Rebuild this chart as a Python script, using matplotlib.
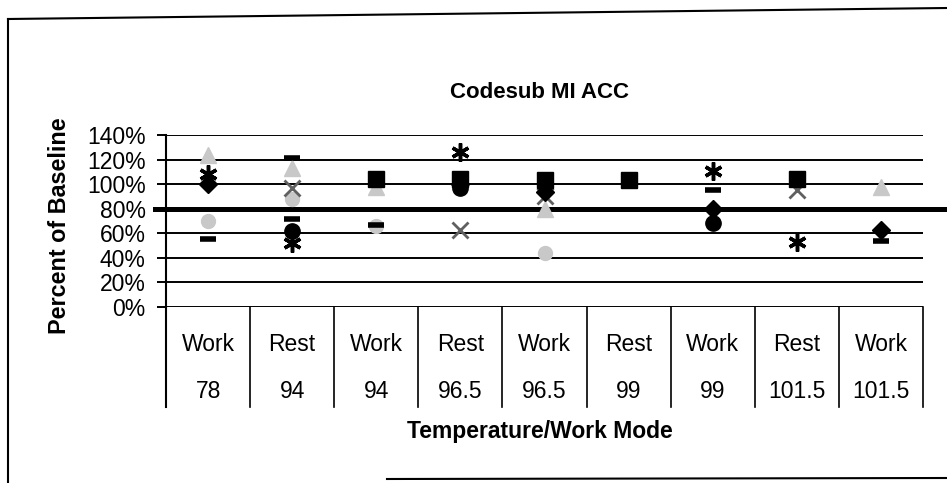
import matplotlib
matplotlib.use("Agg")
import matplotlib.pyplot as plt
import numpy as np
from matplotlib.lines import Line2D

plt.rcParams['font.family'] = ['Liberation Sans', 'DejaVu Sans']

nan = np.nan

# categories (two rows of the category table)
modes = ["Work", "Rest", "Work", "Rest", "Work", "Rest", "Work", "Rest", "Work"]
temps = ["78", "94", "94", "96.5", "96.5", "99", "99", "101.5", "101.5"]

# percent of baseline per series
diamond = [100, nan, nan, 100, 94, nan, 80, nan, 63]
square = [nan, nan, 104, 104, 103, 103, nan, 104, nan]
triangle = [124, 113, 98, nan, 80, nan, nan, nan, 98]
xmark = [nan, 97, nan, 63, 90, nan, nan, 95, nan]
star = [108, 52, nan, 126, nan, nan, 111, 53, nan]
circle = [nan, 62, nan, 97, nan, nan, 68, nan, nan]
light = [70, 88, 66, nan, 44, nan, nan, nan, nan]
dash = [55, 72, 67, nan, nan, nan, 95, nan, 54]
longbar = [nan, 121, nan, nan, nan, nan, nan, nan, nan]
threshold = 80
yticks = [0, 20, 40, 60, 80, 100, 120, 140]

x = np.arange(len(modes))

fig = plt.figure(figsize=(9.47, 4.83), dpi=100)
ax = fig.add_axes([0.1753, 0.3644, 0.7994, 0.3561])

# grid lines
for t in yticks:
    if t == threshold:
        continue
    ax.axhline(t, color='black', lw=1.4, zorder=1)
ax.axhline(threshold, xmin=-0.015, xmax=1.04, color='black', lw=3.6,
           zorder=1, clip_on=False)

ax.plot(x, triangle, ls='none', marker='^', ms=11, color='#c8c8c8', zorder=3)
ax.plot(x, light, ls='none', marker='o', ms=10, color='#c8c8c8', zorder=3)
ax.plot(x, xmark, ls='none', marker='x', ms=11, mew=2, color='#606060', zorder=4)
ax.plot(x, square, ls='none', marker='s', ms=11, color='black', zorder=4)
ax.plot(x, circle, ls='none', marker='o', ms=11, color='black', zorder=4)
ax.plot(x, diamond, ls='none', marker='D', ms=9, color='black', zorder=5)
ax.plot(x, star, ls='none', marker=(6, 2, 0), ms=13, mew=2.5, color='black', zorder=5)
ax.plot(x, dash, ls='none', marker='_', ms=12, mew=4, color='black', zorder=5)
ax.plot(x, longbar, ls='none', marker='_', ms=12, mew=4, color='black', zorder=5)

ax.set_xlim(-0.5, len(modes) - 0.5)
ax.set_ylim(0, 140)
ax.set_yticks(yticks)
ax.set_yticklabels([f"{t}%" for t in yticks])
ax.tick_params(axis='y', length=6.5, width=1.4, pad=8, labelsize=16.5)
ax.set_xticks([])
for s in ['top', 'right', 'bottom']:
    ax.spines[s].set_visible(False)
ax.spines['left'].set_linewidth(1.5)

# category table below the axis
tr = ax.get_xaxis_transform()
ax.plot([-0.5, -0.5], [0, -0.58], transform=tr, color='black', lw=1.5, clip_on=False)
for b in np.arange(0.5, len(modes) + 0.5, 1.0):
    ax.plot([b, b], [0, -0.58], transform=tr, color='black', lw=1.2, clip_on=False)
for i in range(len(modes)):
    ax.text(x[i], -0.22, modes[i], transform=tr, ha='center', va='center', fontsize=16.5)
    ax.text(x[i], -0.49, temps[i], transform=tr, ha='center', va='center', fontsize=16.5)

fig.text(0.570, 0.808, "Codesub MI ACC", ha='center', va='center',
         fontsize=16, fontweight='bold')
fig.text(0.570, 0.106, "Temperature/Work Mode", ha='center', va='center',
         fontsize=16.5, fontweight='bold')
fig.text(0.063, 0.532, "Percent of Baseline", ha='center', va='center',
         rotation=90, fontsize=16.8, fontweight='bold')

# outer frame of the scanned page
W, H = 947.0, 483.0
fig.add_artist(Line2D([8 / W, 8 / W], [1 - 19 / H, 0], color='black', lw=1.5))
fig.add_artist(Line2D([8 / W, 1], [1 - 19 / H, 1 - 8 / H], color='black', lw=1.5))
fig.add_artist(Line2D([387 / W, 1], [1 - 479 / H, 1 - 478 / H], color='black', lw=1.5))

fig.savefig("out.png", dpi=100)
